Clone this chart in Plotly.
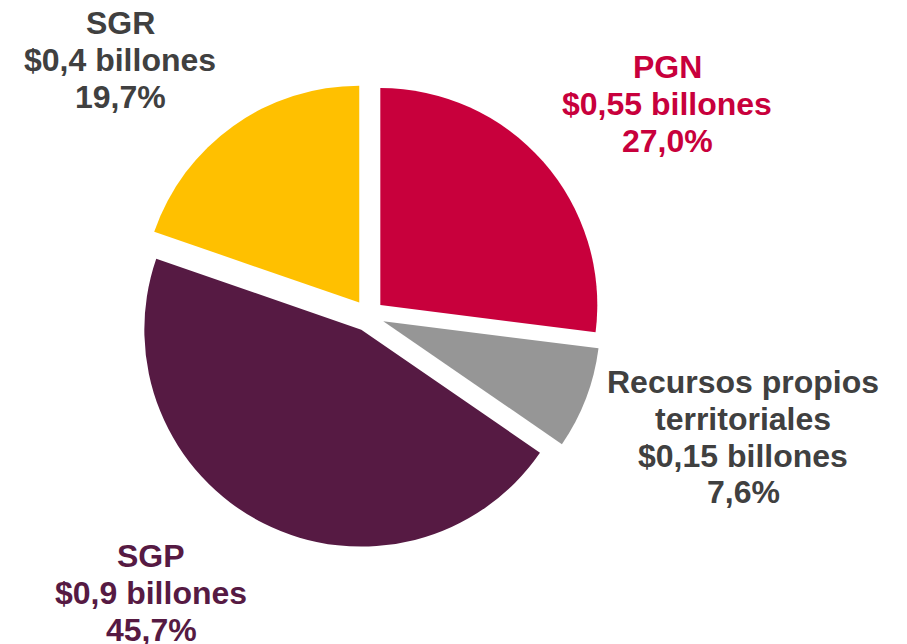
import plotly.graph_objects as go

labels = ["PGN", "Recursos propios<br>territoriales", "SGP", "SGR"]
amounts = ["$0,55 billones", "$0,15 billones", "$0,9 billones", "$0,4 billones"]
pcts = [27.0, 7.6, 45.7, 19.7]
colors = ["#C8003C", "#969696", "#561A43", "#FFC000"]
text_colors = ["#C8003C", "#404040", "#561A43", "#404040"]
# label block: center x (px), first-line center y (px)
label_pos = [(659, 67.5), (735, 382), (143, 556), (112, 23)]
line_gap = 36.8

fig = go.Figure(go.Pie(
    labels=labels,
    values=pcts,
    marker=dict(colors=colors, line=dict(width=0)),
    sort=False,
    direction="clockwise",
    rotation=0,
    pull=[0.073] * 4,
    textinfo="none",
    hoverinfo="label+percent",
    showlegend=False,
    domain=dict(x=[0.1407, 0.6541], y=[0.161, 0.884]),
))

W, H = 907, 644
for lab, amt, p, tc, (x, y) in zip(labels, amounts, pcts, text_colors, label_pos):
    pct_txt = f"{p:.1f}".replace(".", ",") + "%"
    lines = lab.split("<br>") + [amt, pct_txt]
    for i, ln in enumerate(lines):
        fig.add_annotation(
            x=x / W, y=1 - (y + i * line_gap - 8) / H, xref="paper", yref="paper",
            text=ln,
            showarrow=False, align="center",
            xanchor="center", yanchor="middle", borderpad=0,
            font=dict(family="Liberation Sans, Arial, sans-serif", size=32,
                      color=tc, weight="bold"),
        )

fig.update_layout(
    width=W, height=H,
    margin=dict(l=0, r=0, t=0, b=0),
    paper_bgcolor="white", plot_bgcolor="white",
)

fig.write_html("out.html")
